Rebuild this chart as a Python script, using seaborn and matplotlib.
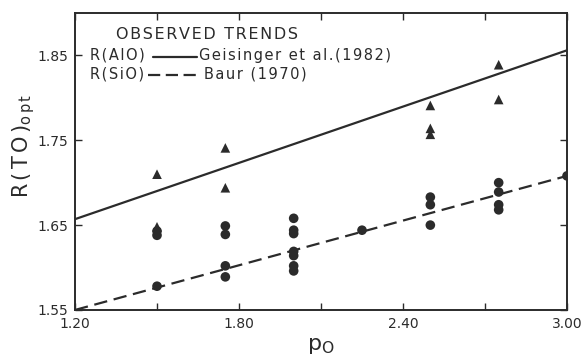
import matplotlib
matplotlib.use("Agg")
import matplotlib.pyplot as plt
import seaborn as sns
import pandas as pd

# ---- data ----
al_p = [1.50, 1.50, 1.75, 1.75, 2.50, 2.50, 2.50, 2.75, 2.75]
al_r = [1.710, 1.648, 1.741, 1.694, 1.791, 1.764, 1.757, 1.839, 1.798]

si_p = [1.50, 1.50, 1.50,
        1.75, 1.75, 1.75, 1.75,
        2.00, 2.00, 2.00, 2.00, 2.00, 2.00, 2.00,
        2.25,
        2.50, 2.50, 2.50,
        2.75, 2.75, 2.75, 2.75,
        3.00]
si_r = [1.643, 1.638, 1.578,
        1.649, 1.639, 1.602, 1.589,
        1.658, 1.644, 1.640, 1.619, 1.614, 1.602, 1.596,
        1.644,
        1.683, 1.674, 1.650,
        1.700, 1.689, 1.674, 1.668,
        1.708]

trend_p = [1.20, 3.00]
trend_alo = [1.657, 1.856]   # Geisinger et al. (1982)
trend_sio = [1.550, 1.708]   # Baur (1970)

x_ticks = [1.20, 1.50, 1.80, 2.10, 2.40, 2.70, 3.00]
x_labels = ["1.20", "", "1.80", "", "2.40", "", "3.00"]
y_ticks = [1.55, 1.65, 1.75, 1.85]
y_labels = ["1.55", "1.65", "1.75", "1.85"]

legend_title = "OBSERVED TRENDS"
legend_names = ["R(AlO)", "R(SiO)"]
legend_refs = ["Geisinger et al.(1982)", "Baur (1970)"]

sns.set_theme(style="ticks")
plt.rcParams['font.family'] = ['DejaVu Sans']
ink = "#2b2b2b"
LW = 1.6
DASH = (6, 3)


def spaced(s):
    return "\u200a".join(s)


fig = plt.figure(figsize=(5.86, 3.60), dpi=100)
ax = fig.add_axes([0.128, 0.139, 0.8396, 0.825])

pts = pd.DataFrame({
    "p": al_p + si_p,
    "r": al_r + si_r,
    "kind": ["Al"] * len(al_p) + ["Si"] * len(si_p),
})
lines = pd.DataFrame({
    "p": trend_p + trend_p,
    "r": trend_alo + trend_sio,
    "kind": ["Al"] * 2 + ["Si"] * 2,
})

sns.lineplot(data=lines, x="p", y="r", hue="kind", style="kind",
             palette={"Al": ink, "Si": ink},
             dashes={"Al": "", "Si": DASH},
             linewidth=LW, legend=False, ax=ax)
sns.scatterplot(data=pts, x="p", y="r", hue="kind", style="kind",
                palette={"Al": ink, "Si": ink},
                markers={"Al": "^", "Si": "o"},
                s=48, edgecolor="none", legend=False, ax=ax, zorder=3)

ax.set_xlim(1.20, 3.00)
ax.set_ylim(1.55, 1.90)
ax.set_xticks(x_ticks)
ax.set_xticklabels(x_labels)
ax.set_yticks(y_ticks)
ax.set_yticklabels(y_labels)
ax.tick_params(direction="in", length=5, width=1.0, colors=ink,
               top=True, right=True, labelsize=10, pad=5)
for sp in ax.spines.values():
    sp.set_visible(True)
    sp.set_color(ink)
    sp.set_linewidth(1.4)

ax.set_xlabel(r"$\mathregular{p_O}$", fontsize=16, color=ink, labelpad=4)
ax.set_ylabel(r"$\mathregular{R\,(\,T\,O\,)_{o\,p\,t}}$", fontsize=15, color=ink)
ax.yaxis.set_label_coords(-0.078, 0.552)

# in-plot legend block
ax.text(0.0833, 0.912, spaced(legend_title), transform=ax.transAxes,
        fontsize=11.5, color=ink, va="baseline", ha="left")
ax.text(0.030, 0.842, spaced(legend_names[0]), transform=ax.transAxes,
        fontsize=10.5, color=ink, va="baseline", ha="left")
ax.text(0.030, 0.781, spaced(legend_names[1]), transform=ax.transAxes,
        fontsize=10.5, color=ink, va="baseline", ha="left")
ax.plot([0.159, 0.248], [0.853, 0.853], transform=ax.transAxes, color=ink, lw=LW)
ax.plot([0.148, 0.250], [0.791, 0.791], transform=ax.transAxes, color=ink, lw=LW,
        dashes=(5.5, 2.5))
ax.text(0.252, 0.842, spaced(legend_refs[0]), transform=ax.transAxes,
        fontsize=10.5, color=ink, va="baseline", ha="left")
ax.text(0.262, 0.781, spaced(legend_refs[1]), transform=ax.transAxes,
        fontsize=10.5, color=ink, va="baseline", ha="left")

fig.savefig("out.png", dpi=100, facecolor="white")
